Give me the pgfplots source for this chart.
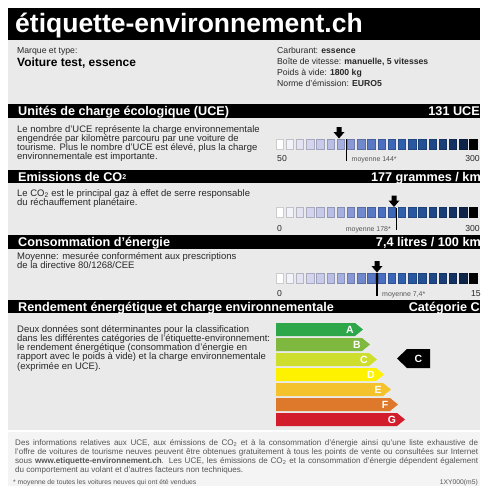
\documentclass[border=0pt]{standalone}
\usepackage{pgfplots}
\usepackage{pgfplotstable}
\pgfplotsset{compat=1.18}
\usepackage{fontspec}
\setmainfont{Liberation Sans}
\definecolor{panel}{RGB}{234,234,234}
\definecolor{foot}{RGB}{244,244,244}
\definecolor{bodytxt}{RGB}{40,40,40}
\definecolor{foottxt}{RGB}{85,85,85}
\definecolor{sqborder}{RGB}{130,132,160}
\definecolor{catA}{RGB}{46,166,74}
\definecolor{catB}{RGB}{126,184,62}
\definecolor{catC}{RGB}{206,222,46}
\definecolor{catD}{RGB}{255,242,0}
\definecolor{catE}{RGB}{244,194,44}
\definecolor{catF}{RGB}{222,120,42}
\definecolor{catG}{RGB}{210,30,44}
\pgfplotstableread{
x y c
279.5 0 0
289.7 0 1
299.9 0 2
310.1 0 3
320.3 0 4
330.5 0 5
340.7 0 6
350.9 0 7
361.1 0 8
371.3 0 9
381.5 0 10
391.7 0 11
401.9 0 12
412.1 0 13
422.3 0 14
432.5 0 15
442.7 0 16
452.9 0 17
463.1 0 18
473.3 0 19
}\scaletab
\newcommand{\hd}{\fontsize{12.7}{14}\selectfont\bfseries}
\newcommand{\bd}{\fontsize{9.5}{9.3}\selectfont}
\newcommand{\lt}{\fontsize{10.5}{11}\selectfont\bfseries}
\begin{document}
\begin{tikzpicture}
\begin{axis}[scale only axis, width=480bp, height=486bp,
  xmin=0, xmax=480, ymin=0, ymax=486, y dir=reverse, hide axis, clip=false,
  colormap={scl}{rgb255=(255,255,255) rgb255=(242,242,250) rgb255=(226,226,242)
    rgb255=(212,212,238) rgb255=(200,202,234) rgb255=(184,190,230) rgb255=(166,176,224)
    rgb255=(136,152,214) rgb255=(112,136,204) rgb255=(88,120,196) rgb255=(74,110,192)
    rgb255=(60,102,184) rgb255=(48,96,172) rgb255=(42,88,160) rgb255=(36,80,148)
    rgb255=(30,72,136) rgb255=(26,62,120) rgb255=(20,50,100) rgb255=(14,36,72) rgb255=(0,0,0)},
  point meta min=0, point meta max=19]
% backgrounds
\fill[white] (0,0) rectangle (480,486);
\fill[panel] (8,8) rectangle (480,430);
\fill[foot] (8,432) rectangle (480,486);
% black bars
\fill[black] (8,8) rectangle (480,40);
\fill[black] (8,104) rectangle (480,118);
\fill[black] (8,170) rectangle (480,183);
\fill[black] (8,235) rectangle (480,249);
\fill[black] (8,300) rectangle (480,313);
% title
\node[anchor=base west, inner sep=0, text=white, font=\fontsize{26.6}{28}\selectfont\bfseries] at (15,32.5) {étiquette-environnement.ch};
% header info
\node[anchor=base west, inner sep=0, text=bodytxt, font=\fontsize{8.7}{9}\selectfont] at (17,54) {Marque et type:};
\node[anchor=base west, inner sep=0, text=black, font=\fontsize{12}{13}\selectfont\bfseries] at (17,67) {Voiture test, essence};
\node[anchor=base west, inner sep=0, text=bodytxt, font=\fontsize{8.7}{9}\selectfont] at (277,53.5) {Carburant: \textbf{essence}};
\node[anchor=base west, inner sep=0, text=bodytxt, font=\fontsize{8.7}{9}\selectfont] at (277,64.5) {Boîte de vitesse: \textbf{manuelle, 5 vitesses}};
\node[anchor=base west, inner sep=0, text=bodytxt, font=\fontsize{8.7}{9}\selectfont] at (277,75.5) {Poids à vide: \textbf{1800 kg}};
\node[anchor=base west, inner sep=0, text=bodytxt, font=\fontsize{8.7}{9}\selectfont] at (277,86.5) {Norme d'émission: \textbf{EURO5}};
% headings
\node[anchor=base west, inner sep=0, text=white, font=\hd] at (18,115.5) {Unités de charge écologique (UCE)};
\node[anchor=base east, inner sep=0, text=white, font=\hd] at (480,115.5) {131 UCE};
\node[anchor=base west, inner sep=0, text=white, font=\hd] at (18,181) {Emissions de CO{\fontsize{7}{7}\selectfont\raisebox{2pt}{2}}};
\node[anchor=base east, inner sep=0, text=white, font=\hd] at (481,181) {177 grammes / km};
\node[anchor=base west, inner sep=0, text=white, font=\hd] at (18,246.5) {Consommation d'énergie};
\node[anchor=base east, inner sep=0, text=white, font=\hd] at (481,246.5) {7,4 litres / 100 km};
\node[anchor=base west, inner sep=0, text=white, font=\hd] at (18,311) {Rendement énergétique et charge environnementale};
\node[anchor=base east, inner sep=0, text=white, font=\hd] at (480,311) {Catégorie C};
% descriptions
\node[anchor=north west, inner sep=0, align=left, text=bodytxt, font=\bd] at (17,125) {Le nombre d'UCE représente la charge environnementale\\engendrée par kilomètre parcouru par une voiture de\\tourisme. Plus le nombre d'UCE est élevé, plus la charge\\environnementale est importante.};
\node[anchor=north west, inner sep=0, align=left, text=bodytxt, font=\bd] at (17,189) {Le CO\textsubscript{2} est le principal gaz à effet de serre responsable\\du réchauffement planétaire.};
\node[anchor=north west, inner sep=0, align=left, text=bodytxt, font=\bd] at (17,252) {Moyenne: mesurée conformément aux prescriptions\\de la directive 80/1268/CEE};
\node[anchor=north west, inner sep=0, align=left, text=bodytxt, font=\bd] at (17,325) {Deux données sont déterminantes pour la classification\\dans les différentes catégories de l'étiquette-environnement:\\le rendement énergétique (consommation d'énergie en\\rapport avec le poids à vide) et la charge environnementale\\(exprimée en UCE).};
% scales: squares
\addplot[scatter, only marks, mark=square*, mark size=5, mark options={xscale=0.75, draw=sqborder, line width=0.4pt},
  point meta=explicit]
  table[x=x, y expr=144, meta=c] {\scaletab};
\addplot[scatter, only marks, mark=square*, mark size=5, mark options={xscale=0.75, draw=sqborder, line width=0.4pt},
  point meta=explicit]
  table[x=x, y expr=212.5, meta=c] {\scaletab};
\addplot[scatter, only marks, mark=square*, mark size=5, mark options={xscale=0.75, draw=sqborder, line width=0.4pt},
  point meta=explicit]
  table[x=x, y expr=278, meta=c] {\scaletab};
% value arrows
\addplot[fill=black, draw=none] coordinates {(336.5,127) (341.5,127) (341.5,132) (344.5,132) (339,138.5) (333.5,132) (336.5,132)} -- cycle;
\addplot[fill=black, draw=none] coordinates {(391.5,195.5) (396.5,195.5) (396.5,200.5) (399.5,200.5) (394,207) (388.5,200.5) (391.5,200.5)} -- cycle;
\addplot[fill=black, draw=none] coordinates {(374.5,261) (379.5,261) (379.5,266) (382.5,266) (377,272.5) (371.5,266) (374.5,266)} -- cycle;
% mean lines
\addplot[black, line width=1.4pt] coordinates {(346.5,139) (346.5,161)};
\addplot[black, line width=1.4pt] coordinates {(396.5,207.5) (396.5,229.5)};
\addplot[black, line width=1.4pt] coordinates {(377,273) (377,296)};
% scale labels
\node[anchor=base west, inner sep=0, text=bodytxt, font=\fontsize{8.7}{9}\selectfont] at (277,161) {50};
\node[anchor=base east, inner sep=0, text=bodytxt, font=\fontsize{8.7}{9}\selectfont] at (480,161) {300};
\node[anchor=base west, inner sep=0, text=foottxt, font=\fontsize{7}{7}\selectfont] at (351.5,161) {moyenne 144*};
\node[anchor=base west, inner sep=0, text=bodytxt, font=\fontsize{8.7}{9}\selectfont] at (277,231) {0};
\node[anchor=base east, inner sep=0, text=bodytxt, font=\fontsize{8.7}{9}\selectfont] at (480,231) {300};
\node[anchor=base east, inner sep=0, text=foottxt, font=\fontsize{7}{7}\selectfont] at (391,231) {moyenne 178*};
\node[anchor=base west, inner sep=0, text=bodytxt, font=\fontsize{8.7}{9}\selectfont] at (277,296) {0};
\node[anchor=base east, inner sep=0, text=bodytxt, font=\fontsize{8.7}{9}\selectfont] at (481,296) {15};
\node[anchor=base west, inner sep=0, text=foottxt, font=\fontsize{7}{7}\selectfont] at (382,296) {moyenne 7,4*};
% category bars
\addplot[fill=catA, draw=none] coordinates {(276,323) (355,323) (363,329.5) (355,336) (276,336)} -- cycle;
\addplot[fill=catB, draw=none] coordinates {(276,338) (362,338) (370,344.5) (362,351) (276,351)} -- cycle;
\addplot[fill=catC, draw=none] coordinates {(276,353) (369,353) (377,359.5) (369,366) (276,366)} -- cycle;
\addplot[fill=catD, draw=none] coordinates {(276,368) (376,368) (384,374.5) (376,381) (276,381)} -- cycle;
\addplot[fill=catE, draw=none] coordinates {(276,383) (383,383) (391,389.5) (383,396) (276,396)} -- cycle;
\addplot[fill=catF, draw=none] coordinates {(276,398) (390,398) (398,404.5) (390,411) (276,411)} -- cycle;
\addplot[fill=catG, draw=none] coordinates {(276,413) (397,413) (405,419.5) (397,426) (276,426)} -- cycle;
\node[text=white, font=\lt, inner sep=0] at (350,329.5) {A};
\node[text=white, font=\lt, inner sep=0] at (357,344.5) {B};
\node[text=white, font=\lt, inner sep=0] at (364,359.5) {C};
\node[text=white, font=\lt, inner sep=0] at (371,374.5) {D};
\node[text=white, font=\lt, inner sep=0] at (378,389.5) {E};
\node[text=white, font=\lt, inner sep=0] at (385,404.5) {F};
\node[text=white, font=\lt, inner sep=0] at (392,419.5) {G};
% category indicator
\addplot[fill=black, draw=none] coordinates {(397,358.5) (407,349) (430,349) (430,368) (407,368)} -- cycle;
\node[text=white, font=\lt, inner sep=0] at (418.5,358.5) {C};
% footer
\node[anchor=north west, inner sep=0, text width=463bp, align=justify, text=foottxt, font=\fontsize{8.1}{9}\selectfont] at (15,439) {Des informations relatives aux UCE, aux émissions de CO\textsubscript{2} et à la consommation d'énergie ainsi qu'une liste exhaustive de\linebreak l'offre de voitures de tourisme neuves peuvent être obtenues gratuitement à tous les points de vente ou consultées sur Internet\linebreak sous \textbf{www.etiquette-environnement.ch}. Les UCE, les émissions de CO\textsubscript{2} et la consommation d'énergie dépendent également\linebreak du comportement au volant et d'autres facteurs non techniques.};
\node[anchor=base west, inner sep=0, text=foottxt, font=\fontsize{6.8}{7}\selectfont] at (13,484) {* moyenne de toutes les voitures neuves qui ont été vendues};
\node[anchor=base east, inner sep=0, text=foottxt, font=\fontsize{6.8}{7}\selectfont] at (478,484) {1XY000(m5)};
\end{axis}
\end{tikzpicture}
\end{document}
